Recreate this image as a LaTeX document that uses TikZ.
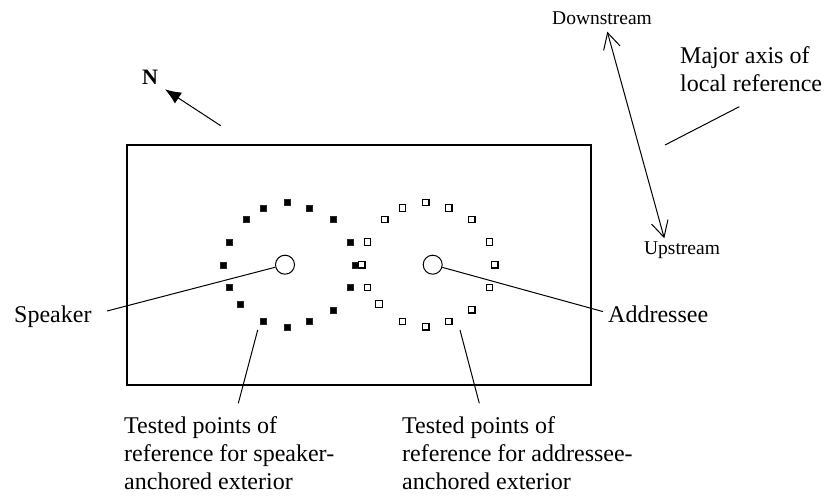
\documentclass[tikz,border=0pt]{standalone}
\usepackage{fontspec}
\setmainfont{Liberation Serif}
\usetikzlibrary{arrows.meta}
\begin{document}
\begin{tikzpicture}[x=1pt,y=-1pt,
  lbl/.style={inner sep=0pt,font=\fontsize{24}{28}\selectfont},
  small/.style={inner sep=0pt,font=\fontsize{19.5}{22}\selectfont},
  fsq/.style={draw=black!85,fill=black,minimum size=6pt,inner sep=0pt,line width=0.4pt},
  osq/.style={draw=black,fill=white,minimum size=6.5pt,inner sep=0pt,line width=1.1pt},
  anchorc/.style={circle,draw,minimum size=19pt,inner sep=0pt,line width=1pt},
  ptr/.style={line width=1pt},
  txtblk/.style={lbl,align=left,anchor=north west}]
\useasboundingbox (0,0) rectangle (826,495);
% frame
\draw[line width=1.2pt] (127,145) rectangle (591,385);
% anchors
\node[anchorc] (spk) at (285,264.7) {};
\node[anchorc] (adr) at (432.7,264.7) {};
% filled squares (speaker)
\foreach \x/\y [count=\i] in {286.7/202.3,263.3/208,309.3/208,246/219.3,332.7/219.3,228.7/242,350.3/242,222.7/264.7,355.3/264.7,228.7/287.3,350.3/287.3,240/304,332.7/309.7,263.3/321.3,286.7/326.7,309.3/321.3}
  \node[fsq] (f\i) at (\x,\y) {};
% open squares (addressee)
\foreach \x/\y [count=\i] in {425.7/202.3,402.3/208,448.7/208,384.7/219.3,471.7/219.3,367.3/242,489.3/242,361.7/264.7,494.7/264.7,367.3/287.3,489.3/287.3,379/304,471.7/309.7,402.3/321.3,425.7/326.7,448.7/321.3}
  \node[osq] (o\i) at (\x,\y) {};
% labels
\node[lbl,anchor=base west] (speaker) at (14,322) {Speaker};
\node[lbl,anchor=base west] (addressee) at (608,322) {Addressee};
\node[txtblk] (tsp) at (124,416) {Tested points of\\reference for speaker-\\anchored exterior};
\node[txtblk] (tad) at (402,416) {Tested points of\\reference for addressee-\\anchored exterior};
\node[lbl,font=\fontsize{22}{24}\selectfont\bfseries] (N) at (150,77) {N};
\node[small] (down) at (602,18) {Downstream};
\node[small] (up) at (682,250) {Upstream};
\node[lbl,align=left,anchor=west] (major) at (680,69) {Major axis of\\local reference};
% coordinates for connector ends
\coordinate (spkend) at (107,311);
\coordinate (adrend) at (603,311.6);
\coordinate (tspA) at (257.7,330);
\coordinate (tspB) at (238.3,403.3);
\coordinate (tadA) at (460,330);
\coordinate (tadB) at (479.3,403.3);
\coordinate (nA) at (220.7,125.7);
\coordinate (nB) at (165,89.3);
\coordinate (axT) at (607.3,31.7);
\coordinate (axB) at (664.3,238.3);
\coordinate (mjA) at (739.3,106.7);
\coordinate (mjB) at (665,145);
% connectors
\draw[ptr] (spk) -- (spkend);
\draw[ptr] (adr) -- (adrend);
\draw[ptr] (tspA) -- (tspB);
\draw[ptr] (tadA) -- (tadB);
\draw[ptr,-{Latex[length=16pt,width=13pt]}] (nA) -- (nB);
\draw[ptr,{Straight Barb[length=16pt,width=17pt]}-{Straight Barb[length=16pt,width=17pt]}] (axB) -- (axT);
\draw[ptr] (mjA) -- (mjB);
\end{tikzpicture}
\end{document}
